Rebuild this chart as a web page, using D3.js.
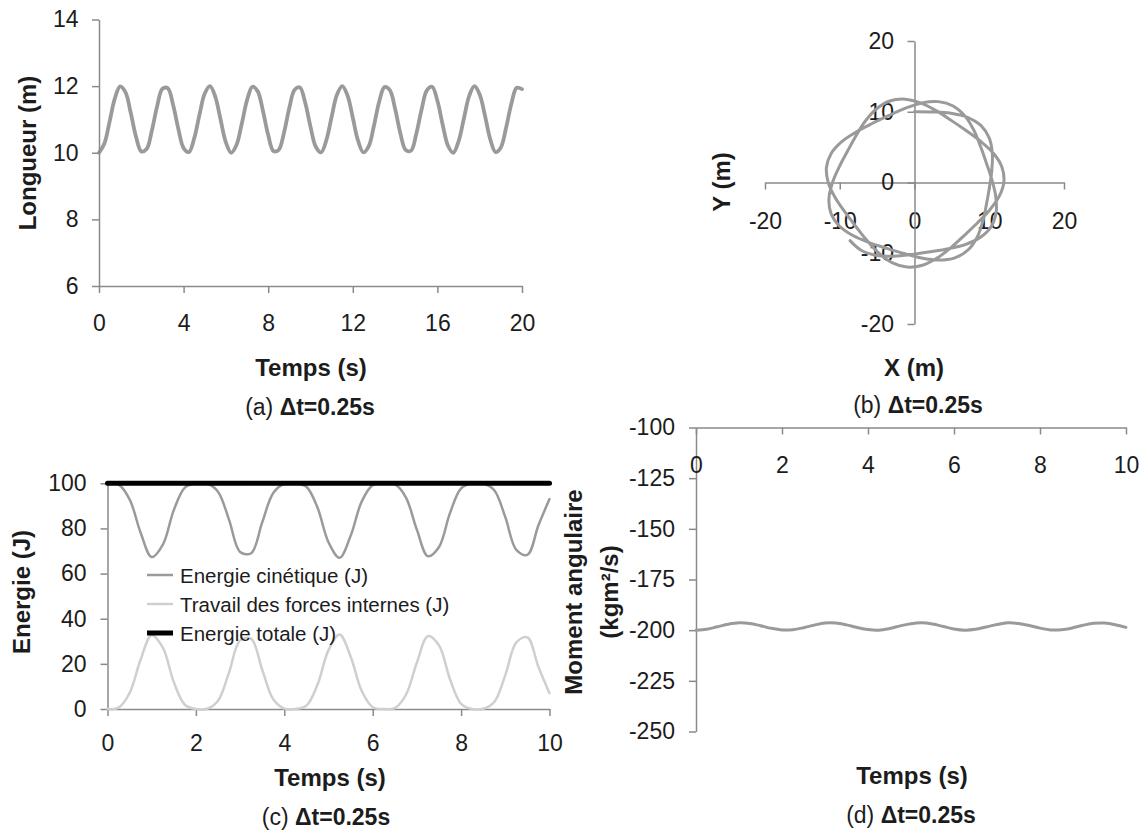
<!DOCTYPE html>
<html>
<head>
<meta charset="utf-8">
<script src="https://cdn.jsdelivr.net/npm/d3@7"></script>
<style>
  html, body { margin: 0; padding: 0; background: #fff; }
  svg { display: block; }
</style>
</head>
<body>
<svg id="fig" width="1146" height="830"></svg>
<script>
// ---- Données (pas de temps 0.25 s) ----
const tempsLong = [0,0.25,0.5,0.75,1,1.25,1.5,1.75,2,2.25,2.5,2.75,3,3.25,3.5,3.75,4,4.25,4.5,4.75,5,5.25,5.5,5.75,6,6.25,6.5,6.75,7,7.25,7.5,7.75,8,8.25,8.5,8.75,9,9.25,9.5,9.75,10,10.25,10.5,10.75,11,11.25,11.5,11.75,12,12.25,12.5,12.75,13,13.25,13.5,13.75,14,14.25,14.5,14.75,15,15.25,15.5,15.75,16,16.25,16.5,16.75,17,17.25,17.5,17.75,18,18.25,18.5,18.75,19,19.25,19.5,19.75,20];
const longueur = [10.00,10.27,10.93,11.63,11.99,11.82,11.20,10.48,10.04,10.11,10.67,11.40,11.92,11.94,11.45,10.72,10.14,10.02,10.43,11.14,11.78,12.00,11.68,10.99,10.31,10.00,10.23,10.87,11.58,11.98,11.85,11.26,10.53,10.05,10.09,10.61,11.35,11.89,11.96,11.50,10.78,10.18,10.01,10.38,11.08,11.74,12.00,11.72,11.05,10.36,10.01,10.19,10.81,11.54,11.97,11.88,11.32,10.58,10.08,10.06,10.56,11.29,11.87,11.98,11.56,10.84,10.21,10.00,10.34,11.02,11.70,12.00,11.75,11.11,10.40,10.02,10.16,10.76,11.48,11.95,11.91];

// Trajectoire de la masse (m)
const trajX = [0,2.45,4.86,7.09,8.87,9.99,10.41,10.34,10.02,9.62,9.14,8.38,7.15,5.40,3.26,0.93,-1.42,-3.75,-6.06,-8.24,-10.05,-11.17,-11.45,-10.99,-10.08,-8.99,-7.86,-6.62,-5.11,-3.30,-1.25,0.90,3.00,5.01,6.99,8.91,10.59,11.69,11.96,11.34,10.06,8.44,6.71,4.95,3.08,1.07,-1.00,-3.01,-4.81,-6.41,-7.87,-9.29,-10.60,-11.54,-11.78,-11.15,-9.73,-7.79,-5.66,-3.48,-1.27,0.99,3.19,5.17,6.76,7.94,8.83,9.60,10.33,10.86,10.93,10.29,8.87,6.86,4.53,2.13,-0.29,-2.72,-5.05,-7.09,-8.62];
const trajY = [10,9.97,9.79,9.22,8.07,6.31,4.12,1.73,-0.70,-3.11,-5.50,-7.73,-9.54,-10.65,-10.97,-10.68,-10.04,-9.29,-8.49,-7.50,-6.15,-4.39,-2.30,-0.06,2.18,4.37,6.54,8.62,10.39,11.52,11.78,11.22,10.09,8.71,7.27,5.76,4.09,2.19,0.14,-1.93,-3.88,-5.69,-7.43,-9.13,-10.64,-11.69,-11.96,-11.33,-9.95,-8.14,-6.18,-4.19,-2.14,-0.01,2.12,4.10,5.78,7.15,8.34,9.44,10.48,11.25,11.43,10.81,9.38,7.38,5.12,2.80,0.46,-1.90,-4.18,-6.18,-7.71,-8.74,-9.36,-9.79,-10.16,-10.41,-10.31,-9.62,-8.22];

const tempsCourt = [0,0.25,0.5,0.75,1,1.25,1.5,1.75,2,2.25,2.5,2.75,3,3.25,3.5,3.75,4,4.25,4.5,4.75,5,5.25,5.5,5.75,6,6.25,6.5,6.75,7,7.25,7.5,7.75,8,8.25,8.5,8.75,9,9.25,9.5,9.75,10];
const energieCinetique = [100,99.4,92.9,78.1,67.3,72.7,88.1,98.1,100,99.9,96.3,83.8,69.6,69.0,82.7,95.7,99.8,100,98.5,89.3,73.9,67.0,76.7,91.9,99.2,100,99.6,93.8,79.4,67.7,71.8,86.9,97.7,100,99.9,96.9,85.0,70.5,68.3,81.4,93.0];
const travailInterne = [0,0.6,7.1,21.9,32.7,27.3,11.9,1.9,0,0.1,3.7,16.2,30.4,31.1,17.4,4.3,0.2,0,1.5,10.7,26.1,33.0,23.3,8.1,0.8,0,0.4,6.2,20.6,32.3,28.2,13.1,2.3,0,0.1,3.1,15.0,29.5,31.7,18.6,7.0];
const energieTotale = [100,100,100,100,100,100,100,100,100,100,100,100,100,100,100,100,100,100,100,100,100,100,100,100,100,100,100,100,100,100,100,100,100,100,100,100,100,100,100,100,100];
const momentAngulaire = [-200.0,-199.5,-198.3,-197.1,-196.4,-196.7,-197.8,-199.1,-199.9,-199.8,-198.8,-197.5,-196.5,-196.5,-197.4,-198.7,-199.7,-200.0,-199.2,-197.9,-196.8,-196.4,-197.0,-198.2,-199.4,-200.0,-199.6,-198.4,-197.2,-196.4,-196.7,-197.7,-199.0,-199.9,-199.8,-198.9,-197.6,-196.6,-196.5,-197.3,-198.6];

// Graduations
const ticksLongueur = [6,8,10,12,14];
const ticksTempsLong = [0,4,8,12,16,20];
const ticksXY = [-20,-10,0,10,20];
const ticksEnergie = [0,20,40,60,80,100];
const ticksTempsCourt = [0,2,4,6,8,10];
const ticksMoment = [-250,-225,-200,-175,-150,-125,-100];

const legende = ["Energie cinétique (J)", "Travail des forces internes (J)", "Energie totale (J)"];

// ---- Style ----
const FONT = "'Liberation Sans', Arial, Helvetica, sans-serif";
const TXT = "#1c1c1c";
const AXIS = "#8a8a8a";
const GRIS = "#9a9a9a";
const GRIS_CLAIR = "#cfcfcf";

const svg = d3.select("#fig");
svg.append("rect").attr("width", 1146).attr("height", 830).attr("fill", "#fff");

const fmt = d => String(d);

function styleAxis(g) {
  g.selectAll("path.domain").attr("stroke", AXIS).attr("stroke-width", 1.5);
  g.selectAll(".tick line").attr("stroke", AXIS).attr("stroke-width", 1.5);
  g.selectAll(".tick text").attr("font-size", 23).attr("fill", TXT).attr("font-family", FONT);
}

function drawAxis(axis, tx, ty) {
  const g = svg.append("g").attr("transform", `translate(${tx},${ty})`).call(axis);
  styleAxis(g);
  return g;
}

function title(txt, x, y, rotate, size) {
  svg.append("text")
    .attr("transform", `translate(${x},${y})` + (rotate ? " rotate(-90)" : ""))
    .attr("text-anchor", "middle")
    .attr("dominant-baseline", "central")
    .attr("font-family", FONT)
    .attr("font-weight", "bold")
    .attr("font-size", size || 24)
    .attr("fill", TXT)
    .text(txt);
}

function caption(lettre, x, y) {
  const t = svg.append("text")
    .attr("x", x).attr("y", y)
    .attr("text-anchor", "middle")
    .attr("dominant-baseline", "central")
    .attr("font-family", FONT)
    .attr("font-size", 23)
    .attr("fill", TXT);
  t.append("tspan").text(`(${lettre}) `);
  t.append("tspan").attr("font-weight", "bold").text("\u0394t=0.25s");
}

function serie(xs, ys, sx, sy, color, width) {
  const pts = xs.map((x, i) => [x, ys[i]]);
  svg.append("path")
    .datum(pts)
    .attr("fill", "none")
    .attr("stroke", color)
    .attr("stroke-width", width)
    .attr("stroke-linejoin", "round")
    .attr("stroke-linecap", "round")
    .attr("d", d3.line().x(d => sx(d[0])).y(d => sy(d[1])).curve(d3.curveCatmullRom.alpha(0.5)));
}

// ---- (a) Longueur du ressort ----
const xA = d3.scaleLinear([0, 20], [99, 522]);
const yA = d3.scaleLinear([6, 14], [286, 19.5]);
serie(tempsLong, longueur, xA, yA, GRIS, 3.8);
drawAxis(d3.axisLeft(yA).tickValues(ticksLongueur).tickFormat(fmt).tickSize(7).tickSizeOuter(0).tickPadding(13.5), xA(0), 0);
drawAxis(d3.axisBottom(xA).tickValues(ticksTempsLong).tickFormat(fmt).tickSize(7).tickSizeOuter(0).tickPadding(22), 0, yA(6));
title("Longueur (m)", 27, 153, true);
title("Temps (s)", 311, 367);
caption("a", 310, 407);

// ---- (b) Trajectoire ----
const xB = d3.scaleLinear([-20, 20], [765, 1064]);
const yB = d3.scaleLinear([-20, 20], [324, 41]);
drawAxis(d3.axisBottom(xB).tickValues(ticksXY).tickFormat(fmt).tickSize(7).tickSizeOuter(0).tickPadding(23), 0, yB(0));
drawAxis(d3.axisLeft(yB).tickValues(ticksXY).tickFormat(fmt).tickSize(7).tickSizeOuter(0).tickPadding(13.5), xB(0), 0);
serie(trajX, trajY, xB, yB, GRIS, 3);
// labels redrawn above the path
svg.selectAll(".tick text").raise();
title("Y (m)", 721.5, 182, true);
title("X (m)", 914, 367);
caption("b", 918, 405);

// ---- (c) Energies ----
const xC = d3.scaleLinear([0, 10], [107.5, 549.5]);
const yC = d3.scaleLinear([0, 100], [709, 483.3]);
drawAxis(d3.axisLeft(yC).tickValues(ticksEnergie).tickFormat(fmt).tickSize(7).tickSizeOuter(0).tickPadding(14), xC(0), 0);
drawAxis(d3.axisBottom(xC).tickValues(ticksTempsCourt).tickFormat(fmt).tickSize(7).tickSizeOuter(0).tickPadding(19), 0, yC(0));
serie(tempsCourt, travailInterne, xC, yC, GRIS_CLAIR, 2.5);
serie(tempsCourt, energieCinetique, xC, yC, GRIS, 2.5);
serie(tempsCourt, energieTotale, xC, yC, "#000", 5);

const styles = [[GRIS, 2.5], [GRIS_CLAIR, 2.5], ["#000", 5]];
legende.forEach((lab, i) => {
  const y = 575 + i * 29;
  svg.append("line").attr("x1", 147).attr("x2", 173).attr("y1", y).attr("y2", y)
    .attr("stroke", styles[i][0]).attr("stroke-width", styles[i][1]);
  svg.append("text").attr("x", 180).attr("y", y)
    .attr("dominant-baseline", "central")
    .attr("font-family", FONT).attr("font-size", 20.5).attr("fill", TXT)
    .text(lab);
});
title("Energie (J)", 21, 592, true);
title("Temps (s)", 330, 777);
caption("c", 326, 816.5);

// ---- (d) Moment angulaire ----
const xD = d3.scaleLinear([0, 10], [696, 1126]);
const yD = d3.scaleLinear([-250, -100], [731.5, 427.5]);
drawAxis(d3.axisLeft(yD).tickValues(ticksMoment).tickFormat(fmt).tickSize(7).tickSizeOuter(0).tickPadding(14), xD(0), 0);
drawAxis(d3.axisBottom(xD).tickValues(ticksTempsCourt).tickFormat(fmt).tickSize(7).tickSizeOuter(0).tickPadding(22), 0, yD(-100));
serie(tempsCourt, momentAngulaire, xD, yD, GRIS, 3);
title("Moment angulaire", 573, 592, true);
title("(kgm\u00b2/s)", 609, 592, true);
title("Temps (s)", 912, 775);
caption("d", 911, 815);
</script>
</body>
</html>
